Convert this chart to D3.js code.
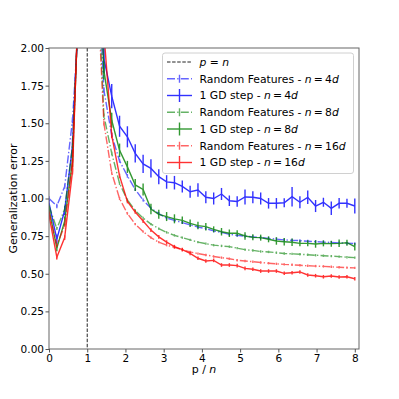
<!DOCTYPE html>
<html>
<head>
<meta charset="utf-8">
<script src="https://cdn.jsdelivr.net/npm/d3@7"></script>
<style>
	body { margin: 0; background: #fff; }
	text { font-family: "DejaVu Sans", sans-serif; fill: #000; }
</style>
</head>
<body>
<div id="myChart"></div>
<script>

// p / n sample points
var xVals = [0, 0.205, 0.410, 0.615, 0.821, 1.026, 1.231, 1.436, 1.641, 1.846,
	2.051, 2.256, 2.462, 2.667, 2.872, 3.077, 3.282, 3.487, 3.692, 3.897,
	4.103, 4.308, 4.513, 4.718, 4.923, 5.128, 5.333, 5.538, 5.744, 5.949,
	6.154, 6.359, 6.564, 6.769, 6.974, 7.179, 7.385, 7.590, 7.795, 8.0];

// Random features / 1 GD step, for n = 4d, 8d, 16d
var rf4 = [1.00, 0.95, 1.08, 1.52, 2.37, 25, 2.8, 1.72, 1.42, 1.25,
	1.15, 1.06, 0.99, 0.935, 0.90, 0.87, 0.855, 0.84, 0.825, 0.81,
	0.80, 0.785, 0.775, 0.762, 0.755, 0.75, 0.745, 0.74, 0.735, 0.73,
	0.725, 0.722, 0.72, 0.716, 0.713, 0.71, 0.708, 0.705, 0.703, 0.70];
var gd4 = [0.97, 0.73, 0.92, 1.35, 2.55, 25, 3.0, 1.93, 1.68, 1.48,
	1.41, 1.30, 1.23, 1.20, 1.145, 1.11, 1.105, 1.08, 1.045, 1.056,
	1.008, 1.00, 1.03, 0.985, 0.98, 1.01, 1.008, 1.00, 0.968, 0.968,
	0.972, 1.012, 0.975, 1.008, 0.95, 0.975, 0.935, 0.968, 0.968, 0.95];
var rf8 = [0.95, 0.80, 0.93, 1.35, 2.55, 25, 2.7, 1.55, 1.30, 1.10,
	0.99, 0.92, 0.87, 0.83, 0.80, 0.775, 0.755, 0.74, 0.725, 0.71,
	0.70, 0.69, 0.685, 0.68, 0.67, 0.66, 0.655, 0.648, 0.645, 0.64,
	0.635, 0.632, 0.63, 0.626, 0.623, 0.62, 0.617, 0.614, 0.61, 0.607];
var gd8 = [0.93, 0.67, 0.85, 1.25, 2.64, 25, 3.0, 1.85, 1.52, 1.32,
	1.21, 1.09, 1.06, 0.93, 0.895, 0.88, 0.865, 0.855, 0.835, 0.82,
	0.813, 0.795, 0.779, 0.769, 0.769, 0.751, 0.742, 0.740, 0.729, 0.718,
	0.713, 0.709, 0.702, 0.702, 0.698, 0.702, 0.700, 0.702, 0.706, 0.680];
var rf16 = [0.91, 0.69, 0.82, 1.25, 2.64, 25, 2.6, 1.50, 1.17, 1.00,
	0.90, 0.83, 0.78, 0.74, 0.71, 0.69, 0.675, 0.66, 0.645, 0.634,
	0.625, 0.615, 0.607, 0.60, 0.59, 0.585, 0.58, 0.575, 0.57, 0.566,
	0.562, 0.56, 0.556, 0.553, 0.551, 0.549, 0.546, 0.543, 0.541, 0.539];
var gd16 = [0.89, 0.61, 0.74, 1.18, 2.74, 25, 3.5, 2.1, 1.42, 1.15,
	0.98, 0.91, 0.85, 0.79, 0.745, 0.71, 0.68, 0.66, 0.635, 0.603,
	0.585, 0.589, 0.558, 0.558, 0.554, 0.536, 0.53, 0.518, 0.518, 0.518,
	0.503, 0.507, 0.512, 0.492, 0.487, 0.48, 0.485, 0.478, 0.48, 0.467];

// error bar half lengths
var errRf4 = [0.015, 0.015, 0.015, 0.02, 0.05, 0.5, 0.05, 0.02, 0.015, 0.012,
	0.012, 0.01, 0.01, 0.01, 0.01, 0.01, 0.01, 0.01, 0.01, 0.01,
	0.01, 0.01, 0.01, 0.01, 0.01, 0.01, 0.01, 0.01, 0.01, 0.01,
	0.01, 0.01, 0.01, 0.01, 0.01, 0.01, 0.01, 0.01, 0.01, 0.01];
var errGd4 = [0.02, 0.03, 0.03, 0.05, 0.1, 0.5, 0.15, 0.1, 0.08, 0.07,
	0.07, 0.06, 0.06, 0.06, 0.05, 0.045, 0.045, 0.04, 0.04, 0.045,
	0.04, 0.04, 0.04, 0.035, 0.035, 0.05, 0.04, 0.04, 0.035, 0.035,
	0.03, 0.065, 0.04, 0.045, 0.04, 0.03, 0.045, 0.035, 0.03, 0.05];
var errRf8 = [0.01, 0.01, 0.01, 0.015, 0.04, 0.5, 0.04, 0.015, 0.012, 0.01,
	0.01, 0.008, 0.008, 0.008, 0.008, 0.008, 0.008, 0.008, 0.008, 0.008,
	0.008, 0.008, 0.008, 0.008, 0.008, 0.008, 0.008, 0.008, 0.008, 0.008,
	0.008, 0.008, 0.008, 0.008, 0.008, 0.008, 0.008, 0.008, 0.008, 0.008];
var errGd8 = [0.02, 0.02, 0.03, 0.04, 0.08, 0.5, 0.1, 0.06, 0.05, 0.045,
	0.04, 0.04, 0.04, 0.035, 0.03, 0.03, 0.03, 0.025, 0.025, 0.025,
	0.025, 0.02, 0.025, 0.025, 0.02, 0.025, 0.02, 0.02, 0.02, 0.025,
	0.025, 0.025, 0.02, 0.02, 0.025, 0.02, 0.02, 0.025, 0.02, 0.025];
var errRf16 = [0.01, 0.01, 0.01, 0.015, 0.04, 0.5, 0.04, 0.015, 0.01, 0.01,
	0.008, 0.008, 0.008, 0.008, 0.008, 0.008, 0.008, 0.008, 0.008, 0.008,
	0.008, 0.008, 0.008, 0.008, 0.008, 0.008, 0.008, 0.008, 0.008, 0.008,
	0.008, 0.008, 0.008, 0.008, 0.008, 0.008, 0.008, 0.008, 0.008, 0.008];
var errGd16 = [0.015, 0.015, 0.015, 0.02, 0.05, 0.5, 0.06, 0.03, 0.02, 0.015,
	0.012, 0.012, 0.012, 0.012, 0.012, 0.012, 0.012, 0.012, 0.012, 0.012,
	0.012, 0.012, 0.012, 0.012, 0.012, 0.012, 0.012, 0.012, 0.012, 0.012,
	0.012, 0.012, 0.012, 0.012, 0.012, 0.012, 0.012, 0.012, 0.012, 0.012];

var xTicks = [0, 1, 2, 3, 4, 5, 6, 7, 8];
var yTicks = [0, 0.25, 0.5, 0.75, 1, 1.25, 1.5, 1.75, 2];

var series = [
	{n: "4", kind: "rf", vals: rf4, err: errRf4, color: "#0000ff"},
	{n: "4", kind: "gd", vals: gd4, err: errGd4, color: "#0000ff"},
	{n: "8", kind: "rf", vals: rf8, err: errRf8, color: "#008000"},
	{n: "8", kind: "gd", vals: gd8, err: errGd8, color: "#008000"},
	{n: "16", kind: "rf", vals: rf16, err: errRf16, color: "#ff0000"},
	{n: "16", kind: "gd", vals: gd16, err: errGd16, color: "#ff0000"}
];


// Main svg window Sizes
var width = 399;
var height = 399;
var plot = {left: 49, top: 48, right: 359, bottom: 349};

var svg = d3.select("#myChart")
	.append("svg")
	.attr("width", width)
	.attr("height", height);

svg.append("rect")
	.attr("width", width)
	.attr("height", height)
	.attr("fill", "#fff");

var xScale = d3.scaleLinear().domain([0, 8.11]).range([plot.left, plot.right]);
var yScale = d3.scaleLinear().domain([0, 2]).range([plot.bottom, plot.top]);

svg.append("clipPath")
	.attr("id", "clip")
	.append("rect")
	.attr("x", plot.left)
	.attr("y", plot.top)
	.attr("width", plot.right - plot.left)
	.attr("height", plot.bottom - plot.top);

var plotArea = svg.append("g").attr("clip-path", "url(#clip)");

// vertical p = n line
plotArea.append("line")
	.attr("x1", xScale(1)).attr("x2", xScale(1))
	.attr("y1", plot.top).attr("y2", plot.bottom)
	.attr("stroke", "#222")
	.attr("stroke-width", 1)
	.attr("stroke-dasharray", "3.5,1.6");

var line = d3.line()
	.x(function(d) { return xScale(d[0]); })
	.y(function(d) { return yScale(d[1]); });

series.forEach(function(s) {
	var pts = xVals.map(function(x, i) { return [x, s.vals[i], s.err[i]]; });
	var op = s.kind == "rf" ? 0.6 : 0.8;
	var g = plotArea.append("g").attr("opacity", op);

	g.append("path")
		.datum(pts)
		.attr("d", line)
		.attr("fill", "none")
		.attr("stroke", s.color)
		.attr("stroke-width", 1.4)
		.attr("stroke-dasharray", s.kind == "rf" ? "8,2.2,1.4,2.2" : null);

	g.selectAll(".ebar")
		.data(pts)
		.enter()
		.append("line")
		.attr("class", "ebar")
		.attr("x1", function(d) { return xScale(d[0]); })
		.attr("x2", function(d) { return xScale(d[0]); })
		.attr("y1", function(d) { return yScale(d[1] - d[2]); })
		.attr("y2", function(d) { return yScale(d[1] + d[2]); })
		.attr("stroke", s.color)
		.attr("stroke-width", 1.4);
});


// Axes frame
svg.append("rect")
	.attr("x", plot.left)
	.attr("y", plot.top)
	.attr("width", plot.right - plot.left)
	.attr("height", plot.bottom - plot.top)
	.attr("fill", "none")
	.attr("stroke", "#666")
	.attr("stroke-width", 1);

svg.append("g")
	.attr("transform", "translate(0," + plot.bottom + ")")
	.call(d3.axisBottom(xScale).tickValues(xTicks).tickSize(3.5).tickPadding(2.5).tickFormat(d3.format("d")))
	.call(function(g) {
		g.select(".domain").remove();
		g.selectAll("line").attr("stroke", "#555");
		g.selectAll("text").style("font-size", "10.5px").style("font-family", "DejaVu Sans");
	});

svg.append("g")
	.attr("transform", "translate(" + plot.left + ",0)")
	.call(d3.axisLeft(yScale).tickValues(yTicks).tickSize(3.5).tickPadding(1.5).tickFormat(d3.format(".2f")))
	.call(function(g) {
		g.select(".domain").remove();
		g.selectAll("line").attr("stroke", "#555");
		g.selectAll("text").style("font-size", "10.5px").style("font-family", "DejaVu Sans");
	});

// axis labels
var xLab = svg.append("text")
	.attr("x", (plot.left + plot.right) / 2)
	.attr("y", 373)
	.attr("text-anchor", "middle")
	.style("font-size", "11px");
xLab.append("tspan").text("p / ");
xLab.append("tspan").style("font-style", "italic").text("n");

svg.append("text")
	.attr("transform", "translate(17," + ((plot.top + plot.bottom) / 2) + ") rotate(-90)")
	.attr("text-anchor", "middle")
	.style("font-size", "11px")
	.text("Generalization error");


// Legend
var leg = svg.append("g");
leg.append("rect")
	.attr("x", 162.5).attr("y", 53)
	.attr("width", 191).attr("height", 120.5)
	.attr("rx", 2.5)
	.attr("fill", "#fff")
	.attr("fill-opacity", 0.8)
	.attr("stroke", "#d0d0d0")
	.attr("stroke-width", 1);

var rowY = function(i) { return 62 + i * 16.75; };

function italicLabel(t, parts) {
	parts.forEach(function(p) {
		t.append("tspan")
			.style("font-style", p[1] ? "italic" : "normal")
			.text(p[0]);
	});
}

// p = n row
leg.append("line")
	.attr("x1", 167).attr("x2", 192)
	.attr("y1", rowY(0)).attr("y2", rowY(0))
	.attr("stroke", "#222")
	.attr("stroke-dasharray", "3.5,1.6");
var t0 = leg.append("text")
	.attr("x", 199.5).attr("y", rowY(0)).attr("dy", "0.36em")
	.style("font-size", "10.8px");
italicLabel(t0, [["p", true], [" = ", false], ["n", true]]);

series.forEach(function(s, i) {
	var y = rowY(i + 1);
	var op = s.kind == "rf" ? 0.6 : 0.8;
	var hg = leg.append("g").attr("opacity", op);
	hg.append("line")
		.attr("x1", 167).attr("x2", 192)
		.attr("y1", y).attr("y2", y)
		.attr("stroke", s.color)
		.attr("stroke-width", 1.4)
		.attr("stroke-dasharray", s.kind == "rf" ? "8,2.2,1.4,2.2" : null);
	var bh = s.kind == "rf" ? 4 : 6.5;
	hg.append("line")
		.attr("x1", 179.5).attr("x2", 179.5)
		.attr("y1", y - bh).attr("y2", y + bh)
		.attr("stroke", s.color)
		.attr("stroke-width", 1.4);

	var t = leg.append("text")
		.attr("x", 199.5).attr("y", y).attr("dy", "0.36em")
		.style("font-size", "10.8px");
	var name = s.kind == "rf" ? "Random Features - " : "1 GD step - ";
	italicLabel(t, [[name, false], ["n", true], ["\u2009=\u2009" + s.n, false], ["d", true]]);
});

</script>
</body>
</html>
